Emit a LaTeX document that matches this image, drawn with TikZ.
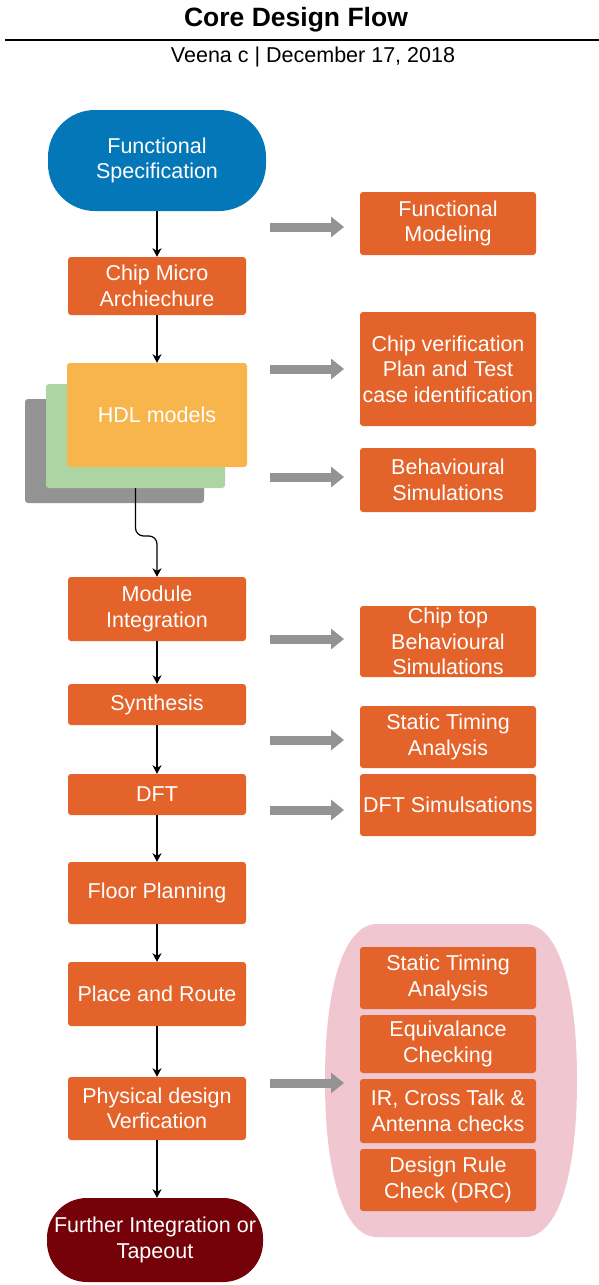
\documentclass[tikz,border=0pt]{standalone}
\usepackage{fontspec}
\setmainfont{Liberation Sans}
\usetikzlibrary{arrows.meta}

\definecolor{specblue}{HTML}{0477B8}
\definecolor{steporange}{HTML}{E3632A}
\definecolor{hdlyellow}{HTML}{F8B54C}
\definecolor{hdlgreen}{HTML}{ADD5A4}
\definecolor{midgray}{HTML}{939393}
\definecolor{tapered}{HTML}{760209}
\definecolor{checkpink}{HTML}{F0C6D0}

\newcommand\bxfont{\fontsize{21.5}{25.6}\selectfont}

\begin{document}
\begin{tikzpicture}[x=1pt,y=-1pt,
  stepbox/.style={fill=steporange, rounded corners=3pt, text=white, align=center,
    inner sep=0pt, font=\bxfont, minimum width=178pt},
  sidebox/.style={stepbox, minimum width=176pt},
  terminal/.style={text=white, align=center, inner sep=0pt, font=\bxfont},
  layer/.style={rounded corners=3pt, inner sep=0pt, minimum width=179pt, minimum height=104pt},
  flow/.style={draw=black, line width=1.2pt, -{Stealth[length=8.5pt,width=9pt,inset=2.5pt]}},
  fatarrow/.style={draw=midgray, line width=9pt, -{Triangle[length=13pt,width=20pt]}}
]
\useasboundingbox (0,0) rectangle (599,1285);
\fill[white] (0,0) rectangle (599,1285);

% heading
\node[anchor=base, font=\fontsize{26.5}{30}\selectfont\bfseries] (title) at (296,26) {Core Design Flow};
\coordinate (ruleL) at (5,40);
\coordinate (ruleR) at (599,40);
\draw[line width=2pt] (ruleL) -- (ruleR);
\node[anchor=base, font=\fontsize{21.5}{25}\selectfont] (author) at (313,62.5) {Veena c | December 17, 2018};

% main flow, left column
\node[terminal, fill=specblue, rounded corners=47pt, minimum width=218pt, minimum height=101pt]
  (spec) at (157,160.5) {Functional\\Specification};
\node[stepbox, minimum height=58pt] (cma) at (157,286) {Chip Micro\\Archiechure};

% stacked HDL model layers
\node[layer, fill=midgray] (hdlback) at (114.5,451) {};
\node[layer, fill=hdlgreen] (hdlmid) at (135.5,436) {};
\node[layer, fill=hdlyellow, text=white, font=\bxfont, minimum width=180pt] (hdl) at (157,415) {HDL models};

\node[stepbox, minimum height=64pt] (modint) at (157,609) {Module\\Integration};
\node[stepbox, minimum height=41pt] (synth) at (157,704.5) {Synthesis};
\node[stepbox, minimum height=41pt] (dft) at (157,794.5) {DFT};
\node[stepbox, minimum height=62pt] (floor) at (157,893) {Floor Planning};
\node[stepbox, minimum height=64pt] (pnr) at (157,994) {Place and Route};
\node[stepbox, minimum height=63pt] (pdv) at (157,1108.5) {Physical design\\Verfication};
\node[terminal, fill=tapered, rounded corners=40pt, minimum width=216pt, minimum height=84pt]
  (tape) at (155,1240) {Further Integration or\\Tapeout};

% sign-off group backdrop
\fill[checkpink] (377,924) -- (525,924)
  .. controls (557.2,924) and (577,983.5) .. (577,1080.5)
  .. controls (577,1177.5) and (557.2,1237) .. (525,1237)
  -- (377,1237)
  .. controls (344.8,1237) and (325,1177.5) .. (325,1080.5)
  .. controls (325,983.5) and (344.8,924) .. (377,924) -- cycle;

% right column
\node[sidebox, minimum height=63pt] (fmod) at (448,223.5) {Functional\\Modeling};
\node[sidebox, minimum height=114pt] (cvp) at (448,369) {Chip verification\\Plan and Test\\case identification};
\node[sidebox, minimum height=64pt] (bsim) at (448,480) {Behavioural\\Simulations};
\node[sidebox, minimum height=71pt] (ctb) at (448,641.5) {Chip top\\Behavioural\\Simulations};
\node[sidebox, minimum height=62pt] (sta) at (448,737) {Static Timing\\Analysis};
\node[sidebox, minimum height=62pt] (dfts) at (448,805) {DFT Simulsations};
\node[sidebox, minimum height=62pt] (sta2) at (448,978) {Static Timing\\Analysis};
\node[sidebox, minimum height=58pt] (eqc) at (448,1044) {Equivalance\\Checking};
\node[sidebox, minimum height=64pt] (irc) at (448,1111) {IR, Cross Talk \&\\Antenna checks};
\node[sidebox, minimum height=62pt] (drc) at (448,1180) {Design Rule\\Check (DRC)};

% flow connectors
\draw[flow] (spec.south) -- (cma.north);
\draw[flow] (cma.south) -- (hdl.north);
\draw[flow, rounded corners=8pt] (hdlmid.south) -- (135.5,536) -- (157,536) -- (modint.north);
\draw[flow] (modint.south) -- (synth.north);
\draw[flow] (synth.south) -- (dft.north);
\draw[flow] (dft.south) -- (floor.north);
\draw[flow] (floor.south) -- (pnr.north);
\draw[flow] (pnr.south) -- (pdv.north);
\draw[flow] (pdv.south) -- (tape.north -| pdv.south);

% side-task arrows
\foreach \n/\y in {a/227, b/369, c/477, d/639, e/740, f/810, g/1083} {
  \coordinate (ga\n) at (270,\y);
  \coordinate (gb\n) at (344,\y);
  \draw[fatarrow] (ga\n) -- (gb\n);
}
\end{tikzpicture}
\end{document}
